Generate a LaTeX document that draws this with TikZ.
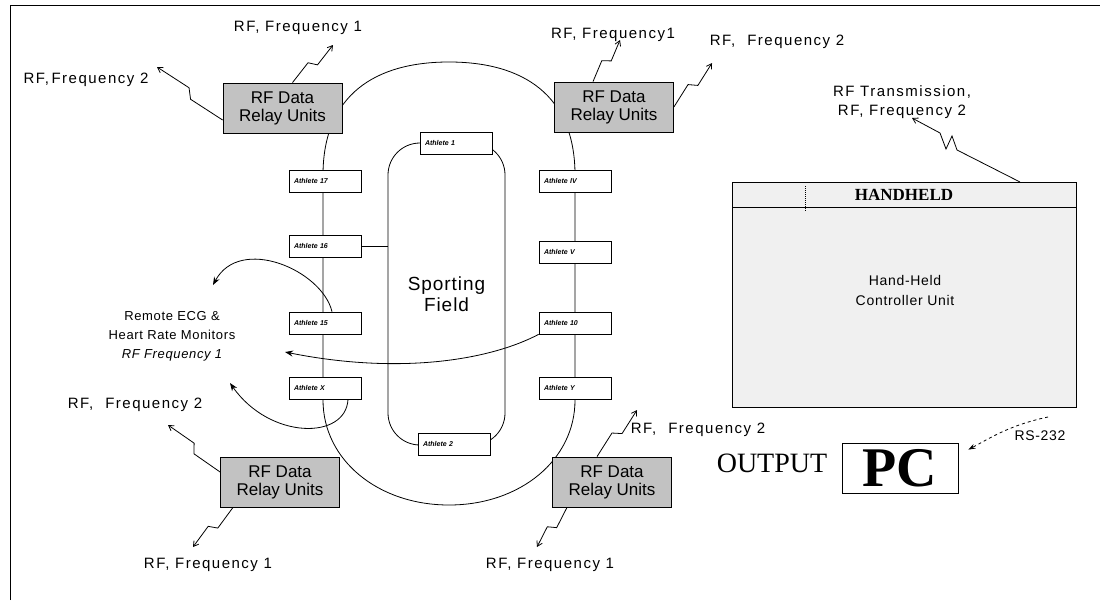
\documentclass[tikz,border=0pt]{standalone}
\usepackage{fontspec}
\setmainfont{Liberation Sans}
\newfontfamily\serif{Liberation Serif}
\newfontfamily\rflabfont[LetterSpace=10]{Liberation Sans}
\newfontfamily\ecgfont[LetterSpace=5]{Liberation Sans}
\usetikzlibrary{arrows.meta,calc}
\tikzset{
 relay/.style={draw, line width=0.8pt, fill=black!24, minimum width=119pt, minimum height=50pt, align=center, font=\fontsize{17}{18}\selectfont, inner sep=1pt},
 ath/.style={draw, line width=0.7pt, fill=white, minimum width=72pt, minimum height=22pt, text width=62pt, align=left, font=\fontsize{7}{8}\selectfont\bfseries\itshape, inner sep=3pt},
 rflab/.style={font=\rflabfont\fontsize{15}{19}\selectfont, inner sep=0pt, align=center},
 rfa/.style={-{Straight Barb[length=5pt,width=6pt]}, line width=0.8pt},
 conn/.style={line width=0.8pt},
 ecga/.style={-{Stealth[length=8pt,width=6pt]}, line width=0.8pt},
}
\newcommand\rfzig[2]{\draw[rfa] (#1) -- ($(#1)!0.45!(#2)!4pt!90:(#2)$) -- ($(#1)!0.55!(#2)!4pt!-90:(#2)$) -- (#2);}
\begin{document}
\begin{tikzpicture}[x=1pt,y=-1pt]
\useasboundingbox (0,0) rectangle (1107,608);
% frame
\draw[line width=1pt] (10,600) -- (10,5) -- (1100,5);
% oval track
\draw[conn] (323,400) -- (323,175) .. controls (323,95) and (375,62) .. (449,62)
  .. controls (523,62) and (575,95) .. (575,175) -- (575,400)
  .. controls (575,460) and (520,505) .. (449,505)
  .. controls (378,505) and (323,460) .. (323,400) -- cycle;
% field
\node[draw, line width=0.8pt, rounded corners=32pt, minimum width=117pt, minimum height=302pt,
  align=center, font=\ecgfont\fontsize{19}{21}\selectfont] (field) at (446.5,294) {Sporting\\Field};
% athletes
\node[ath] (top) at (456,143) {Athlete 1};
\node[ath] (bot) at (454,444) {Athlete 2};
\node[ath] (l1) at (325,181) {Athlete 17};
\node[ath] (l2) at (325,246) {Athlete 16};
\node[ath] (l3) at (325,323) {Athlete 15};
\node[ath] (l4) at (325,388) {Athlete X};
\node[ath] (r1) at (575,181) {Athlete IV};
\node[ath] (r2) at (575,252) {Athlete V};
\node[ath] (r3) at (575,323) {Athlete 10};
\node[ath] (r4) at (575,388) {Athlete Y};
\draw[conn] (l2.east) -- (l2.east -| field.west);
% ECG curves
\coordinate (e1) at (213,285);
\coordinate (e2) at (285,352);
\coordinate (e3) at (230,383);
\draw[ecga] ([xshift=7pt]l3.north) .. controls (322,270) and (240,235) .. (e1);
\draw[ecga] (r3.south west) .. controls (490,360) and (400,375) .. (e2);
\draw[ecga] ([xshift=23pt]l4.south) .. controls (346,440) and (270,440) .. (e3);
\node[font=\ecgfont\fontsize{13}{19}\selectfont, align=center] (ecg) at (172,336)
  {Remote ECG \&\\Heart Rate Monitors\\\itshape RF Frequency 1};
% relay units
\node[relay] (tl) at (282.5,108) {RF Data\\Relay Units};
\node[relay] (tr) at (614,107) {RF Data\\Relay Units};
\node[relay] (bl) at (280,482) {RF Data\\Relay Units};
\node[relay] (br) at (612,482) {RF Data\\Relay Units};
% RF labels
\node[rflab] (tlf1) at (298,28) {RF, Frequency 1};
\node[rflab] (tlf2) at (86,80) {RF,\,Frequency 2};
\node[rflab] (trf1) at (613,35) {RF, Frequency1};
\node[rflab] (trf2) at (777,42) {RF,\hspace{12pt}Frequency 2};
\node[rflab] (blf2) at (135,405) {RF,\hspace{12pt}Frequency 2};
\node[rflab] (blf1) at (208,565) {RF, Frequency 1};
\node[rflab] (brf2) at (698,430) {RF,\hspace{12pt}Frequency 2};
\node[rflab] (brf1) at (550,565) {RF, Frequency 1};
% RF arrows
\coordinate (a1) at (333,45);  \rfzig{[xshift=10pt]tl.north}{a1}
\coordinate (a2) at (157,67);  \rfzig{[yshift=-12pt]tl.west}{a2}
\coordinate (a3) at (620,40);  \rfzig{[xshift=-21pt]tr.north}{a3}
\coordinate (a4) at (712,63);  \rfzig{tr.east}{a4}
\coordinate (a5) at (168,425); \rfzig{[yshift=10pt]bl.west}{a5}
\coordinate (a6) at (193,547); \rfzig{[xshift=-47pt]bl.south}{a6}
\coordinate (a7) at (637,410); \rfzig{[xshift=-15pt]br.north}{a7}
\coordinate (a8) at (537,547); \rfzig{[xshift=-45pt]br.south}{a8}
% handheld
\node[draw, line width=0.8pt, fill=black!6, minimum width=344pt, minimum height=225pt] (hh) at (904,294.5) {};
\node[draw, line width=0.8pt, fill=black!6, minimum width=344pt, minimum height=25pt, anchor=north,
  font=\serif\bfseries\fontsize{17}{18}\selectfont] (hhh) at (hh.north) {HANDHELD};
\draw[densely dotted, line width=1pt] (805,186) -- (805,212);
\node[font=\ecgfont\fontsize{14}{20}\selectfont, align=center] (hht) at (905,290) {Hand-Held\\Controller Unit};
\node[rflab] (rft) at (902,102) {RF Transmission,\\RF, Frequency 2};
\coordinate (hs) at (1020,182);
\coordinate (ht) at (912,118);
\draw[rfa] (hs) -- (957,150) -- (952,136) -- (946,149) -- (940,133) -- (ht);
% PC
\node[draw, line width=0.8pt, minimum width=116pt, minimum height=50pt,
  font=\serif\bfseries\fontsize{56}{56}\selectfont, inner sep=0pt] (pc) at (900,468) {PC};
\node[font=\serif\fontsize{28}{30}\selectfont, inner sep=0pt] (out) at (772,463) {OUTPUT};
\node[font=\ecgfont\fontsize{14}{16}\selectfont, inner sep=0pt] (rs) at (1040,436) {RS-232};
\coordinate (rss) at (1048,417);
\draw[dashed, line width=0.8pt, -{Stealth[length=7pt,width=5pt]}] (rss) .. controls (1010,425) and (990,438) .. ([xshift=10pt,yshift=-7pt]pc.north east);
\end{tikzpicture}
\end{document}
